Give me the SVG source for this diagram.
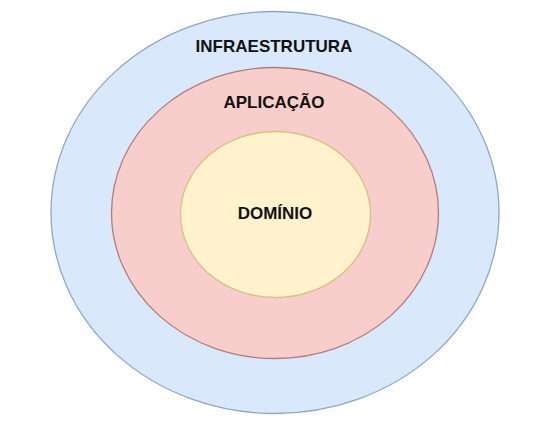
<svg xmlns="http://www.w3.org/2000/svg" width="546" height="429" viewBox="0 0 546 429">
<style>
.lbl{font-family:"Liberation Sans",Arial,Helvetica,sans-serif;font-weight:bold;font-size:17px;fill:#111;text-anchor:middle}
</style>
<rect width="546" height="429" fill="#ffffff"/>
<g id="infraestrutura">
<ellipse cx="275" cy="212.5" rx="224" ry="201" fill="#dae8fc" stroke="#8fa6c8" stroke-width="1.3"/>
<text class="lbl" x="274" y="52">INFRAESTRUTURA</text>
</g>
<g id="aplicacao">
<ellipse cx="275" cy="213" rx="163.5" ry="145.5" fill="#f8cecc" stroke="#b27c7a" stroke-width="1.3"/>
<text class="lbl" x="274" y="108">APLICAÇÃO</text>
</g>
<g id="dominio">
<ellipse cx="275.5" cy="214.5" rx="95" ry="83" fill="#fff2cc" stroke="#d8bf82" stroke-width="1.3"/>
<text class="lbl" x="275" y="219">DOMÍNIO</text>
</g>
<g id="connectors"/>
</svg>
